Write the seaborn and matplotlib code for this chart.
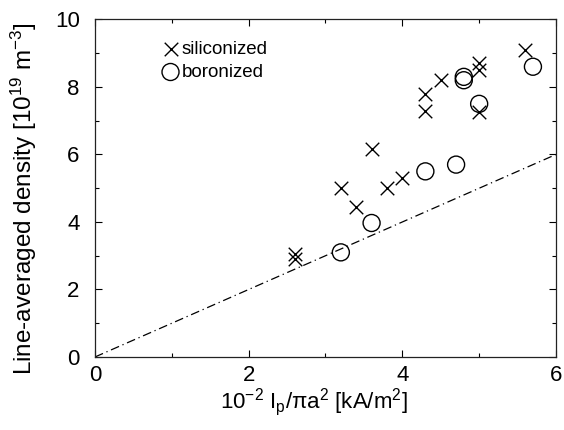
import matplotlib
matplotlib.use("Agg")
import matplotlib.pyplot as plt
from matplotlib.ticker import MultipleLocator
import seaborn as sns
import pandas as pd

# Siliconized wall conditioning
si_current = [2.6, 2.6, 3.2, 3.4, 3.6, 3.8, 4.0, 4.3, 4.3, 4.5, 5.0, 5.0, 5.0, 5.6]
si_density = [3.05, 2.9, 5.0, 4.45, 6.15, 5.0, 5.3, 7.3, 7.8, 8.2, 7.25, 8.5, 8.7, 9.1]

# Boronized wall conditioning
bo_current = [3.2, 3.6, 4.3, 4.7, 4.8, 4.8, 5.0, 5.7]
bo_density = [3.1, 3.97, 5.5, 5.7, 8.2, 8.3, 7.5, 8.6]

# Greenwald limit line
limit_x = [0, 6]
limit_y = [0, 6]

sns.set_style("ticks")
plt.rcParams["font.family"] = ["Liberation Sans", "DejaVu Sans"]
plt.rcParams["mathtext.fontset"] = "custom"
plt.rcParams["mathtext.rm"] = "Liberation Sans"
plt.rcParams["mathtext.it"] = "Liberation Sans"
plt.rcParams["text.color"] = "black"
plt.rcParams["axes.labelcolor"] = "black"
plt.rcParams["xtick.color"] = "black"
plt.rcParams["ytick.color"] = "black"

fig = plt.figure(figsize=(5.64, 4.30), dpi=100)
ax = fig.add_axes([0.1684, 0.1698, 0.8174, 0.7849])

si = pd.DataFrame({"x": si_current, "y": si_density})
bo = pd.DataFrame({"x": bo_current, "y": bo_density})
lim = pd.DataFrame({"x": limit_x, "y": limit_y})

sns.lineplot(data=lim, x="x", y="y", ax=ax, color="black", lw=0.9,
             linestyle=(0, (7, 3, 1, 3)), legend=False)
sns.scatterplot(data=si, x="x", y="y", ax=ax, marker="x", s=95,
                color="black", linewidths=1.0, label="siliconized")
sns.scatterplot(data=bo, x="x", y="y", ax=ax, marker="o", s=150,
                facecolors="none", edgecolors="black", linewidths=1.0,
                label="boronized")

ax.set_xlim(0, 6)
ax.set_ylim(0, 10)
ax.xaxis.set_major_locator(MultipleLocator(2))
ax.xaxis.set_minor_locator(MultipleLocator(1))
ax.yaxis.set_major_locator(MultipleLocator(2))
ax.yaxis.set_minor_locator(MultipleLocator(1))
ax.tick_params(which="both", direction="in", top=True, right=True,
               width=0.8, labelsize=16)
ax.tick_params(axis="y", which="both", pad=11)
ax.tick_params(axis="x", which="both", pad=6)
ax.tick_params(which="major", length=5)
ax.tick_params(which="minor", length=3)
for sp in ax.spines.values():
    sp.set_linewidth(0.9)
    sp.set_color("#222222")

ax.set_xlabel(r"10$^{-2}$ I$_\mathregular{p}$/$\pi$a$^{2}$ [kA/m$^{2}$]", fontsize=16)
ax.xaxis.set_label_coords(0.475, -0.085, transform=ax.transAxes)
ax.xaxis.label.set_verticalalignment("top")
ax.set_ylabel(r"Line-averaged density [10$^{19}$ m$^{-3}$]", fontsize=17.5)
ax.yaxis.set_label_coords(-0.122, 0.471)

leg = ax.legend(loc="upper left", bbox_to_anchor=(0.113, 0.975), frameon=False,
                fontsize=13.5, handletextpad=0.05, borderpad=0.2,
                labelspacing=0.3, handlelength=1.1, markerscale=1.0)

fig.savefig("out.png", dpi=100)
